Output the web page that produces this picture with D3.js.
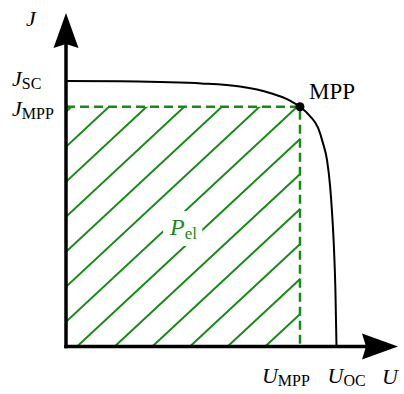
<!DOCTYPE html>
<html>
<head>
<meta charset="utf-8">
<script src="https://cdn.jsdelivr.net/npm/d3@7"></script>
<style>
  html, body { margin: 0; padding: 0; background: #fff; }
  svg { display: block; }
  text { font-family: "Liberation Serif", "Times New Roman", serif; }
</style>
</head>
<body>
<script>
// Solar cell J–U characteristic (normalised: U_OC = 1, J_SC = 1)
const curveU = [0, 0.20, 0.35, 0.50, 0.643, 0.754, 0.828, 0.865, 0.902, 0.932, 0.950, 0.965, 0.976, 0.983, 0.991, 0.996, 1.0];
const curveJ = [1.0, 0.999, 0.996, 0.991, 0.979, 0.955, 0.926, 0.903, 0.868, 0.823, 0.766, 0.702, 0.608, 0.513, 0.362, 0.211, 0];

// Maximum power point
const U_MPP = 0.865;
const J_MPP = 0.903;
const J_SC = 1.0;
const U_OC = 1.0;

// Axis labels (main symbol + subscript)
const uTicks = [U_MPP, U_OC];
const uTickSubs = ["MPP", "OC"];
const jTicks = [J_SC, J_MPP];
const jTickSubs = ["SC", "MPP"];

const W = 404, H = 394;
const green = "#178a17";

const x = d3.scaleLinear().domain([0, 1]).range([66, 336.5]);
const y = d3.scaleLinear().domain([0, 1]).range([346.5, 81]);

const svg = d3.select("body").append("svg")
  .attr("width", W).attr("height", H);

// Hatched area P_el = U_MPP * J_MPP
const rx0 = x(0), rx1 = x(U_MPP), ry0 = y(J_MPP), ry1 = y(0);
svg.append("clipPath").attr("id", "pel-clip")
  .append("rect")
  .attr("x", rx0).attr("y", ry0)
  .attr("width", rx1 - rx0).attr("height", ry1 - ry0);

const slope = 0.93, step = 35, c0 = ry0 + 5;
const hatch = svg.append("g").attr("clip-path", "url(#pel-clip)");
for (let c = c0 - step * 8; c < ry1 + slope * (rx1 - rx0) + step; c += step) {
  hatch.append("line")
    .attr("x1", rx0).attr("y1", c)
    .attr("x2", rx1 + 10).attr("y2", c - slope * (rx1 + 10 - rx0))
    .attr("stroke", green).attr("stroke-width", 2);
}

// P_el label with a clear gap in the hatching
const pel = svg.append("text")
  .attr("x", 170).attr("y", 235)
  .attr("fill", green).attr("font-size", 24);
pel.append("tspan").attr("font-style", "italic").text("P");
pel.append("tspan").attr("font-size", 17).attr("dy", 4).text("el");
const bb = pel.node().getBBox();
svg.insert("rect", () => pel.node())
  .attr("x", bb.x - 6).attr("y", bb.y - 3)
  .attr("width", bb.width + 11).attr("height", bb.height + 6)
  .attr("fill", "#fff");

// Dashed MPP guide lines
svg.append("path")
  .attr("d", `M${rx0},${ry0}H${rx1}V${ry1}`)
  .attr("fill", "none")
  .attr("stroke", green).attr("stroke-width", 2.5)
  .attr("stroke-dasharray", "9,5");

// J–U curve
const line = d3.line()
  .x((d, i) => x(curveU[i]))
  .y((d, i) => y(curveJ[i]))
  .curve(d3.curveMonotoneX);
svg.append("path")
  .datum(curveU)
  .attr("d", line)
  .attr("fill", "none")
  .attr("stroke", "#000").attr("stroke-width", 2);

// Axes with arrow heads
svg.append("line")
  .attr("x1", x(0)).attr("y1", y(0) + 1.75)
  .attr("x2", x(0)).attr("y2", 40)
  .attr("stroke", "#000").attr("stroke-width", 3.5);
svg.append("line")
  .attr("x1", x(0) - 1.75).attr("y1", y(0))
  .attr("x2", 370).attr("y2", y(0))
  .attr("stroke", "#000").attr("stroke-width", 3.5);
svg.append("path")
  .attr("d", `M${x(0)},13 L${x(0) + 12.5},48 L${x(0)},44 L${x(0) - 12.5},48 Z`)
  .attr("fill", "#000");
svg.append("path")
  .attr("d", `M398,${y(0)} L362,${y(0) - 13} L366,${y(0)} L362,${y(0) + 13} Z`)
  .attr("fill", "#000");

// MPP marker
svg.append("circle")
  .attr("cx", x(U_MPP)).attr("cy", y(J_MPP)).attr("r", 4.5)
  .attr("fill", "#000");
svg.append("text")
  .attr("x", 309).attr("y", 99)
  .attr("font-size", 23).text("MPP");

// Axis titles
svg.append("text").attr("x", 26).attr("y", 26)
  .attr("font-size", 22).attr("font-style", "italic").text("J");
svg.append("text").attr("x", 382).attr("y", 384)
  .attr("font-size", 22).attr("font-style", "italic").text("U");

// Labelled values on the J axis
const jOffsets = [4.5, 9.5];
jTicks.forEach((v, i) => {
  const t = svg.append("text")
    .attr("x", 12).attr("y", y(v) + jOffsets[i])
    .attr("font-size", 22);
  t.append("tspan").attr("font-style", "italic").text("J");
  t.append("tspan").attr("font-size", 16).attr("dy", 3).text(jTickSubs[i]);
});

// Labelled values on the U axis
const uOffsets = [-38, -9];
uTicks.forEach((v, i) => {
  const t = svg.append("text")
    .attr("x", x(v) + uOffsets[i]).attr("y", 383)
    .attr("font-size", 22);
  t.append("tspan").attr("font-style", "italic").text("U");
  t.append("tspan").attr("font-size", 16).attr("dy", 3).text(uTickSubs[i]);
});
</script>
</body>
</html>
